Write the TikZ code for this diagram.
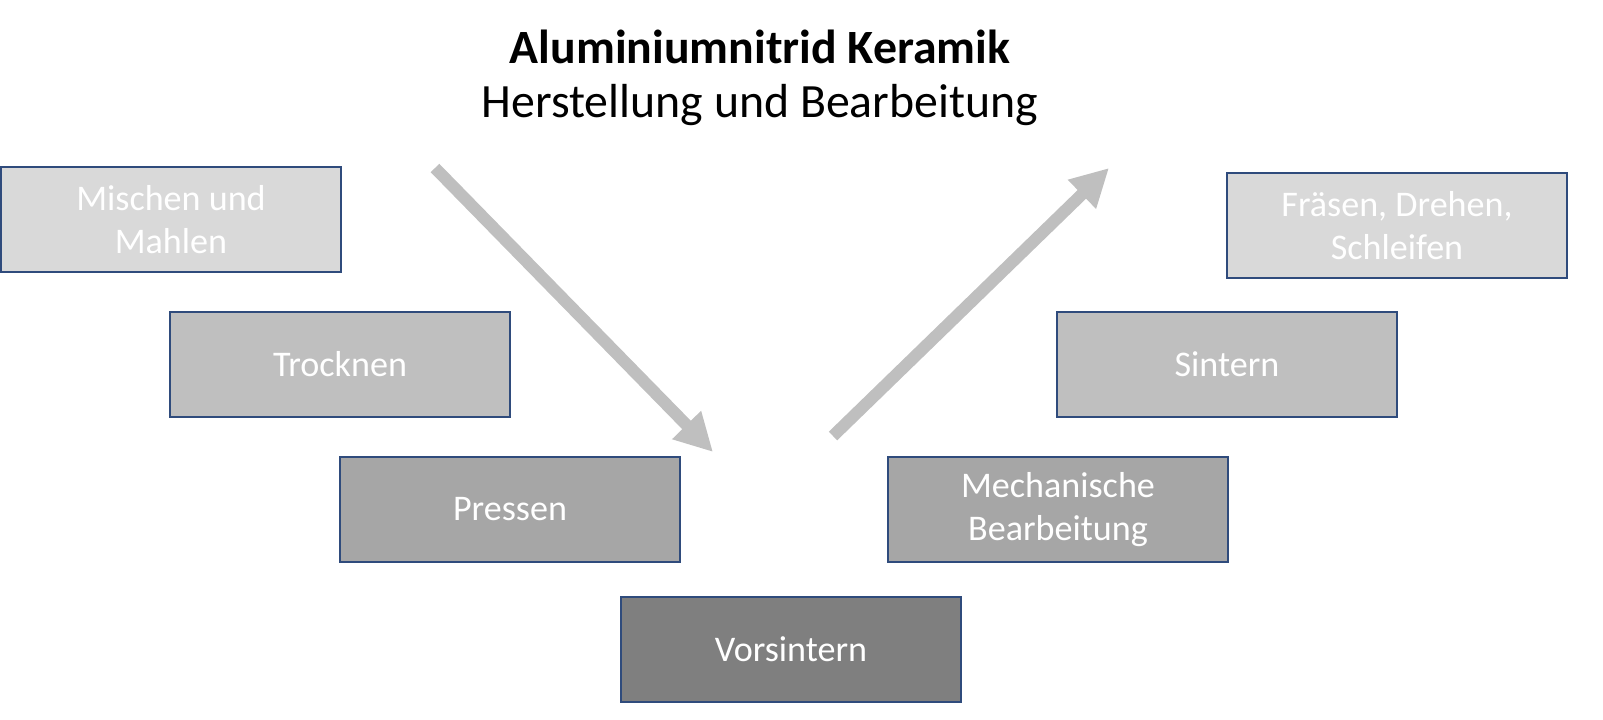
\documentclass[tikz,border=0pt]{standalone}
\usepackage{fontspec}
\setmainfont{Carlito}
\usetikzlibrary{arrows.meta}
\definecolor{cA}{HTML}{D9D9D9}
\definecolor{cB}{HTML}{BFBFBF}
\definecolor{cC}{HTML}{A6A6A6}
\definecolor{cD}{HTML}{7F7F7F}
\definecolor{bd}{HTML}{2F4B7C}
\begin{document}
\begin{tikzpicture}[x=0.02045cm,y=-0.02045cm,
  stepbox/.style={draw=bd,line width=1pt,minimum width=6.953cm,minimum height=2.147cm,text=white,font=\fontsize{21}{25}\selectfont,align=center,inner sep=0pt},
  flow/.style={draw=cB,line width=7pt,-{Triangle[length=22pt,width=22pt]}}]
\useasboundingbox (0,0) rectangle (1603,719);
\node[font=\bfseries\fontsize{27.8}{32}\selectfont] (t1) at (760,47) {Aluminiumnitrid Keramik};
\node[font=\fontsize{27.8}{32}\selectfont] (t2) at (760,105) {Herstellung und Bearbeitung};
\node[stepbox,fill=cA] (m) at (171,219.5) {Mischen und\\Mahlen};
\node[stepbox,fill=cB] (t) at (340,364.5) {Trocknen};
\node[stepbox,fill=cC] (p) at (510,509.5) {Pressen};
\node[stepbox,fill=cD] (v) at (791,649.5) {Vorsintern};
\node[stepbox,fill=cC] (me) at (1058,509.5) {Mechanische\\Bearbeitung};
\node[stepbox,fill=cB] (s) at (1227,364.5) {Sintern};
\node[stepbox,fill=cA] (f) at (1397,225.5) {Fräsen, Drehen,\\Schleifen};
\coordinate (a1) at (435,168);
\coordinate (a2) at (713,452);
\coordinate (b1) at (833,436);
\coordinate (b2) at (1109,168);
\draw[flow] (a1) -- (a2);
\draw[flow] (b1) -- (b2);
\end{tikzpicture}
\end{document}
